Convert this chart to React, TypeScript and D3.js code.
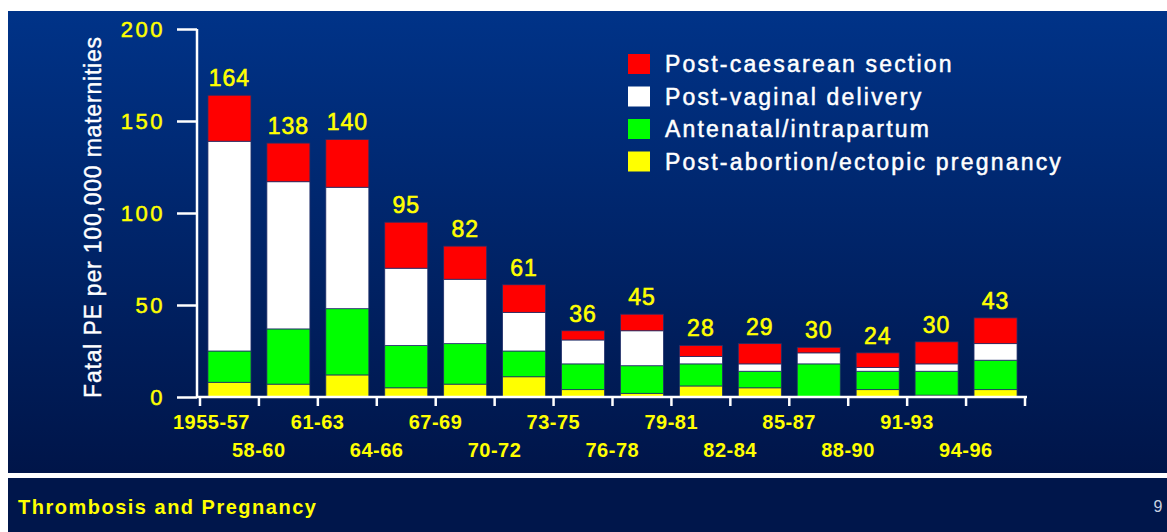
import React, {useEffect, useRef} from "react";
import * as d3 from "d3";

const periods = [
  "1955-57", "58-60", "61-63", "64-66", "67-69", "70-72", "73-75",
  "76-78", "79-81", "82-84", "85-87", "88-90", "91-93", "94-96",
];
const postAbortion = [8, 7, 12, 5, 7, 11, 4, 2, 6, 5, 0, 4, 1, 4];
const antenatal = [17, 30, 36, 23, 22, 14, 14, 15, 12, 9, 18, 10, 13, 16];
const postVaginal = [114, 80, 66, 42, 35, 21, 13, 19, 4, 4, 6, 2, 4, 9];
const postCaesarean = [25, 21, 26, 25, 18, 15, 5, 9, 6, 11, 3, 8, 12, 14];
const totals = [164, 138, 140, 95, 82, 61, 36, 45, 28, 29, 30, 24, 30, 43];
const yTicks = [0, 50, 100, 150, 200];

const seriesKeys = ["abortion", "antenatal", "vaginal", "caesarean"];
const seriesColors = ["#ffff00", "#00ff00", "#ffffff", "#ff0000"];
const legendLabels = [
  "Post-caesarean section",
  "Post-vaginal delivery",
  "Antenatal/intrapartum",
  "Post-abortion/ectopic pregnancy",
];
const legendColors = ["#ff0000", "#ffffff", "#00ff00", "#ffff00"];

const W = 1167;
const H = 532;
const FONT = "'Liberation Sans', Arial, sans-serif";

export default function App() {
  const ref = useRef<SVGSVGElement>(null);

  useEffect(() => {
    const svg = d3.select(ref.current);
    svg.selectAll("*").remove();

    // background
    const defs = svg.append("defs");
    const grad = defs.append("linearGradient")
      .attr("id", "bg").attr("x1", 0).attr("x2", 0).attr("y1", 0).attr("y2", 1);
    grad.append("stop").attr("offset", "0%").attr("stop-color", "#003388");
    grad.append("stop").attr("offset", "100%").attr("stop-color", "#001549");

    svg.append("rect").attr("width", W).attr("height", H).attr("fill", "#ffffff");
    svg.append("rect").attr("x", 8).attr("y", 11).attr("width", W - 8).attr("height", 462)
      .attr("fill", "url(#bg)");
    svg.append("rect").attr("x", 8).attr("y", 473).attr("width", W - 8).attr("height", 5)
      .attr("fill", "#ffffff");
    svg.append("rect").attr("x", 8).attr("y", 478).attr("width", W - 8).attr("height", H - 478)
      .attr("fill", "#00164b");

    const x = d3.scaleBand<string>().domain(periods).range([200, 1025])
      .paddingInner(0.27).paddingOuter(0.135);
    const y = d3.scaleLinear().domain([0, 200]).range([397, 29]);
    const axisX = 197;

    const rows = periods.map((p, i) => ({
      period: p,
      abortion: postAbortion[i],
      antenatal: antenatal[i],
      vaginal: postVaginal[i],
      caesarean: postCaesarean[i],
    }));
    const stacked = d3.stack<any>().keys(seriesKeys)(rows);

    // bars
    stacked.forEach((layer, li) => {
      svg.append("g").selectAll("rect").data(layer).join("rect")
        .attr("x", (d: any) => x(d.data.period)!)
        .attr("width", x.bandwidth())
        .attr("y", (d: any) => y(d[1]))
        .attr("height", (d: any) => Math.max(0, y(d[0]) - y(d[1])))
        .attr("fill", seriesColors[li])
        .attr("stroke", "#22306a")
        .attr("stroke-width", 0.8);
    });

    // totals above bars
    const tops = stacked[stacked.length - 1];
    svg.append("g").selectAll("text").data(tops).join("text")
      .attr("x", (d: any) => x(d.data.period)! + x.bandwidth() / 2)
      .attr("y", (d: any) => y(d[1]) - 9)
      .attr("text-anchor", "middle")
      .attr("fill", "#ffff00")
      .attr("stroke", "#ffff00")
      .attr("stroke-width", 0.6)
      .style("font-family", FONT)
      .style("font-size", "23px")
      .style("letter-spacing", "1px")
      .text((_d: any, i: number) => totals[i]);

    // y axis
    const gy = svg.append("g").attr("transform", `translate(${axisX},0)`);
    gy.call(d3.axisLeft(y).tickValues(y.ticks(20)).tickSize(10).tickFormat(() => ""));
    gy.call(d3.axisLeft(y).tickValues(yTicks).tickSize(20).tickPadding(12).tickFormat(d3.format("d")) as any);
    gy.selectAll("path").attr("stroke", "#ffffff").attr("stroke-width", 2.5)
      .attr("d", `M0,${y(200)}V${y(0)}`);
    gy.selectAll("line").attr("stroke", "#ffffff").attr("stroke-width", 2.5);
    gy.selectAll("text")
      .attr("fill", "#ffff00")
      .attr("stroke", "#ffff00")
      .attr("stroke-width", 0.5)
      .style("font-family", FONT)
      .style("font-size", "22px")
      .style("letter-spacing", "2.5px");

    // x axis
    const step = x.step();
    const start0 = x(periods[0])! - (step - x.bandwidth()) / 2;
    const edges = d3.range(periods.length + 1).map((i) => start0 + i * step);
    const gx = svg.append("g");
    gx.append("line").attr("x1", axisX).attr("x2", edges[edges.length - 1] + 2)
      .attr("y1", y(0)).attr("y2", y(0))
      .attr("stroke", "#ffffff").attr("stroke-width", 2.5);
    gx.selectAll("line.tick").data(edges).join("line")
      .attr("class", "tick")
      .attr("x1", (d) => d).attr("x2", (d) => d)
      .attr("y1", y(0)).attr("y2", y(0) + 9)
      .attr("stroke", "#ffffff").attr("stroke-width", 2.5);
    gx.selectAll("text").data(periods).join("text")
      .attr("x", (_d, i) => edges[i] - 27)
      .attr("y", (_d, i) => (i % 2 === 0 ? 422 : 450))
      .attr("dominant-baseline", "central")
      .attr("fill", "#ffff00")
      .style("font-family", FONT)
      .style("font-size", "20px")
      .style("font-weight", "bold")
      .style("letter-spacing", "0.5px")
      .text((d) => d);

    // y title
    svg.append("text")
      .attr("transform", "translate(93,217) rotate(-90)")
      .attr("text-anchor", "middle")
      .attr("dominant-baseline", "central")
      .attr("fill", "#ffffff")
      .attr("stroke", "#ffffff")
      .attr("stroke-width", 0.4)
      .style("font-family", FONT)
      .style("font-size", "23px")
      .style("letter-spacing", "0.8px")
      .text("Fatal PE per 100,000 maternities");

    // legend
    const lg = svg.append("g").attr("transform", "translate(628,64)");
    const item = lg.selectAll("g").data(legendLabels).join("g")
      .attr("transform", (_d, i) => `translate(0,${i * 32.5})`);
    item.append("rect").attr("x", 0).attr("y", -10).attr("width", 22).attr("height", 20)
      .attr("fill", (_d, i) => legendColors[i]);
    item.append("text").attr("x", 37).attr("y", 0)
      .attr("dominant-baseline", "central")
      .attr("fill", "#ffffff")
      .attr("stroke", "#ffffff")
      .attr("stroke-width", 0.5)
      .style("font-family", FONT)
      .style("font-size", "23px")
      .style("letter-spacing", "2.2px")
      .text((d) => d);

    // footer
    svg.append("text").attr("x", 18).attr("y", 507)
      .attr("dominant-baseline", "central")
      .attr("fill", "#ffff00")
      .style("font-family", FONT)
      .style("font-size", "20px")
      .style("font-weight", "bold")
      .style("letter-spacing", "1.5px")
      .text("Thrombosis and Pregnancy");
    svg.append("text").attr("x", 1158).attr("y", 506)
      .attr("text-anchor", "middle")
      .attr("dominant-baseline", "central")
      .attr("fill", "#c8d0e0")
      .style("font-family", FONT)
      .style("font-size", "16px")
      .text("9");
  }, []);

  return (
    <div style={{position: "absolute", left: 0, top: 0}}>
      <svg ref={ref} width={W} height={H} style={{display: "block"}} />
    </div>
  );
}
